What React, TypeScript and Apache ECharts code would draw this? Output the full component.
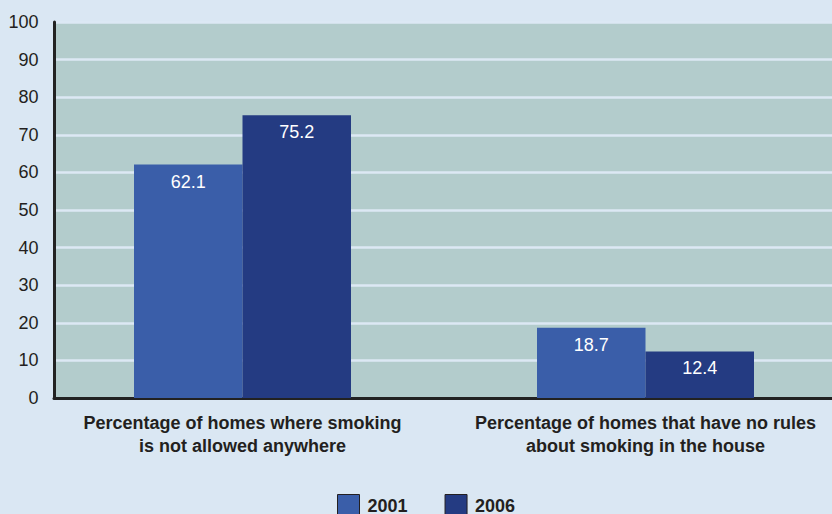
import React, { useEffect, useRef } from "react";
import * as echarts from "echarts";

const categories = [
  "Percentage of homes where smoking\nis not allowed anywhere",
  "Percentage of homes that have no rules\nabout smoking in the house",
];
const seriesNames = ["2001", "2006"];
const values2001 = [62.1, 18.7];
const values2006 = [75.2, 12.4];
const yTicks = { min: 0, max: 100, interval: 10 };

const colors = ["#3A5EA9", "#243B82"];
const pageBg = "#DAE7F3";
const plotBg = "#B3CCCC";
const sans = "'Liberation Sans', Arial, sans-serif";

export default function App() {
  const ref = useRef<HTMLDivElement>(null);
  useEffect(() => {
    document.body.style.margin = "0";
    const chart = echarts.init(ref.current!, null, { renderer: "svg" });
    const top = 22;
    const height = 376;
    chart.setOption({
      animation: false,
      backgroundColor: pageBg,
      grid: [
        { left: 54, right: 0, top, height, show: true, backgroundColor: plotBg, borderWidth: 0 },
        { left: 242.5, right: 186.5, top, height, show: false },
      ],
      xAxis: [
        {
          gridIndex: 0,
          type: "value",
          min: 0,
          max: 1,
          offset: 1.5,
          axisLine: { show: true, lineStyle: { color: "#222", width: 3 } },
          axisTick: { show: false },
          axisLabel: { show: false },
          splitLine: { show: false },
        },
        {
          gridIndex: 1,
          type: "category",
          data: categories,
          boundaryGap: false,
          axisLine: { show: false },
          axisTick: { show: false },
          axisLabel: {
            interval: 0,
            margin: 13,
            fontFamily: sans,
            fontWeight: "bold",
            fontSize: 18,
            lineHeight: 23,
            color: "#231F20",
            align: "center",
          },
        },
      ],
      yAxis: [
        {
          gridIndex: 0,
          type: "value",
          ...yTicks,
          offset: 1.5,
          axisLine: { show: true, lineStyle: { color: "#222", width: 3 } },
          axisTick: { show: false },
          axisLabel: { margin: 14, fontFamily: sans, fontSize: 18, color: "#231F20" },
          splitLine: { show: true, lineStyle: { color: "#DCE8F4", width: 2.5 } },
        },
        {
          gridIndex: 1,
          type: "value",
          ...yTicks,
          show: false,
          splitLine: { show: false },
        },
      ],
      legend: {
        data: seriesNames,
        top: 494,
        left: 337,
        padding: 0,
        itemWidth: 22,
        itemHeight: 22,
        itemGap: 37,
        icon: "rect",
        itemStyle: { borderColor: "#231F20", borderWidth: 1 },
        textStyle: { fontFamily: sans, fontWeight: "bold", fontSize: 18, color: "#231F20", padding: [0, 0, 0, 3] },
      },
      series: [
        {
          name: seriesNames[0],
          type: "bar",
          xAxisIndex: 1,
          yAxisIndex: 1,
          data: values2001,
          barWidth: 108.5,
          barGap: "0%",
          itemStyle: { color: colors[0] },
          label: { show: true, position: "insideTop", distance: 8, color: "#fff", fontFamily: sans, fontSize: 18 },
        },
        {
          name: seriesNames[1],
          type: "bar",
          xAxisIndex: 1,
          yAxisIndex: 1,
          data: values2006,
          barWidth: 108.5,
          barGap: "0%",
          itemStyle: { color: colors[1] },
          label: { show: true, position: "insideTop", distance: 8, color: "#fff", fontFamily: sans, fontSize: 18 },
        },
      ],
    });
    return () => chart.dispose();
  }, []);
  return <div ref={ref} style={{ width: 832, height: 514 }} />;
}
